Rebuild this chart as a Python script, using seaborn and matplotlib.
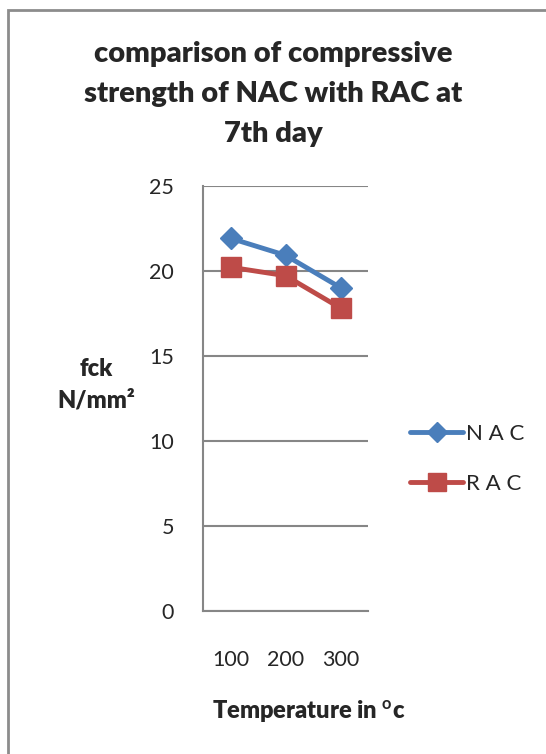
import matplotlib
matplotlib.use("Agg")
import matplotlib.pyplot as plt
import seaborn as sns
import pandas as pd
from matplotlib.patches import Rectangle
from matplotlib.lines import Line2D

temps = ["100", "200", "300"]
nac = [21.9, 20.9, 19.0]
rac = [20.2, 19.7, 17.8]
series_names = ["N A C", "R A C"]
yticks = [0, 5, 10, 15, 20, 25]

sns.set_style("white")
plt.rcParams['font.family'] = ['Lato', 'DejaVu Sans']
plt.rcParams['mathtext.fontset'] = 'custom'
plt.rcParams['mathtext.rm'] = 'Lato'
plt.rcParams['mathtext.bf'] = 'Lato:bold'

df = pd.DataFrame({
    "temp": temps * 2,
    "val": nac + rac,
    "series": [series_names[0]] * 3 + [series_names[1]] * 3,
})

fig = plt.figure(figsize=(5.46, 7.54), dpi=100)
ax = fig.add_axes([203 / 546, 1 - 611 / 754, 165 / 546, (611 - 185.5) / 754])

blue = "#4a7ebb"
red = "#be4b48"
sns.lineplot(data=df, x="temp", y="val", hue="series",
             palette=[blue, red], linewidth=3.5, ax=ax, legend=False, sort=False)
ax.plot(temps, nac, linestyle="none", marker="D", markersize=11, color=blue,
        markeredgecolor=blue)
ax.plot(temps, rac, linestyle="none", marker="s", markersize=14, color=red,
        markeredgecolor=red)

ax.set_xlim(-0.5, 2.5)
ax.set_ylim(0, 25)
ax.set_yticks(yticks)
ax.set_yticklabels([str(v) for v in yticks], fontsize=15.5)
ax.set_xticks([-0.5, 0.5, 1.5, 2.5])
ax.set_xticklabels([])
ax.set_xticks([0, 1, 2], minor=True)
ax.set_xticklabels(temps, minor=True, fontsize=15.5)
ax.tick_params(axis="x", which="minor", length=0, pad=28)
ax.tick_params(axis="x", which="major", length=7, width=1.5, color="#868686", direction="out")
ax.tick_params(axis="y", length=9, width=1.5, color="#868686", direction="out", pad=12)
ax.yaxis.grid(True, color="#868686", linewidth=1.5)
ax.set_axisbelow(True)
for s in ["top", "right"]:
    ax.spines[s].set_visible(False)
for s in ["left", "bottom"]:
    ax.spines[s].set_color("#868686")
    ax.spines[s].set_linewidth(1.5)
ax.set_xlabel("")
ax.set_ylabel("")

fig.text(273 / 546, 1 - 94 / 754,
         "comparison of compressive\nstrength of NAC with RAC at\n7th day",
         ha="center", va="center", fontsize=21, fontweight="heavy",
         linespacing=1.68)
fig.text(96 / 546, 1 - 385 / 754, "fck\nN/mm²", ha="center", va="center",
         fontsize=17, fontweight="heavy", linespacing=1.5)
fig.text(309 / 546, 1 - 712 / 754, r"Temperature in $\mathbf{^{o}}$c",
         ha="center", va="center", fontsize=17, fontweight="heavy")

handles = [
    Line2D([0], [0], color=blue, lw=3.5, marker="D", markersize=10),
    Line2D([0], [0], color=red, lw=3.5, marker="s", markersize=13),
]
fig.legend(handles, series_names, loc="center left",
           bbox_to_anchor=(390 / 546, 1 - 459 / 754), frameon=False,
           fontsize=16, handlelength=2.4, handletextpad=0.1, labelspacing=1.35)

fig.add_artist(Rectangle((8 / 546, -0.1), 1.2, 1 - 10 / 754 + 0.1,
                         transform=fig.transFigure, fill=False,
                         edgecolor="#8c8c8c", linewidth=2))

fig.savefig("out.png", dpi=100)
